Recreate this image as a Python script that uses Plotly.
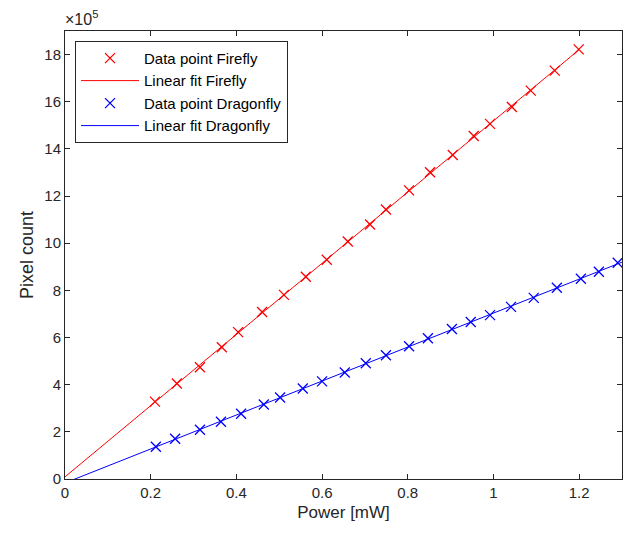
import numpy as np
import plotly.graph_objects as go

# power in mW, pixel counts in units of 1e5
firefly_power = [0.210, 0.261, 0.315, 0.366, 0.404, 0.460, 0.511, 0.562, 0.611, 0.660, 0.712,
                 0.749, 0.803, 0.852, 0.905, 0.954, 0.992, 1.043, 1.087, 1.143, 1.199]
firefly_counts = [3.28, 4.05, 4.74, 5.59, 6.23, 7.08, 7.81, 8.58, 9.30, 10.07, 10.79,
                  11.43, 12.24, 13.01, 13.74, 14.55, 15.06, 15.78, 16.47, 17.32, 18.22]

dragonfly_power = [0.212, 0.257, 0.315, 0.364, 0.411, 0.464, 0.502, 0.555, 0.600, 0.653, 0.702, 0.749,
                   0.803, 0.847, 0.903, 0.947, 0.992, 1.041, 1.094, 1.148, 1.204, 1.246, 1.290]
dragonfly_counts = [1.37, 1.71, 2.09, 2.43, 2.77, 3.16, 3.46, 3.84, 4.14, 4.52, 4.91, 5.25,
                    5.63, 5.97, 6.36, 6.66, 6.95, 7.30, 7.68, 8.11, 8.49, 8.79, 9.17]

fit_range_firefly = [0, 1.2]
fit_range_dragonfly = [0, 1.3]

font = "Liberation Sans, Arial, sans-serif"
axis_color = "#262626"


def fit_line(x, y, xr):
    k, b = np.polyfit(x, y, 1)
    xr = np.array(xr)
    return xr, k * xr + b


fig = go.Figure()

fig.add_trace(go.Scatter(x=firefly_power, y=firefly_counts, mode="markers",
                         name="Data point Firefly", cliponaxis=False,
                         marker=dict(symbol="x-thin", size=10, line=dict(color="#ff0000", width=1.3))))
fx, fy = fit_line(firefly_power, firefly_counts, fit_range_firefly)
fig.add_trace(go.Scatter(x=fx, y=fy, mode="lines", name="Linear fit Firefly",
                         line=dict(color="#ff0000", width=1)))

fig.add_trace(go.Scatter(x=dragonfly_power, y=dragonfly_counts, mode="markers",
                         name="Data point Dragonfly", cliponaxis=False,
                         marker=dict(symbol="x-thin", size=10, line=dict(color="#0000ff", width=1.3))))
dx, dy = fit_line(dragonfly_power, dragonfly_counts, fit_range_dragonfly)
fig.add_trace(go.Scatter(x=dx, y=dy, mode="lines", name="Linear fit Dragonfly",
                         line=dict(color="#0000ff", width=1)))

axis_style = dict(showline=True, linecolor=axis_color, linewidth=1, mirror="ticks",
                  ticks="inside", ticklen=5, tickcolor=axis_color, showgrid=False,
                  zeroline=False, automargin=False, tickfont=dict(size=15, color=axis_color))

fig.update_xaxes(range=[0, 1.3], tickvals=[0, 0.2, 0.4, 0.6, 0.8, 1, 1.2],
                 title=dict(text="Power [mW]", font=dict(size=17, color=axis_color), standoff=6),
                 **axis_style)
fig.update_yaxes(range=[0, 19], dtick=2,
                 title=dict(text="Pixel count", font=dict(size=18, color=axis_color), standoff=6),
                 **axis_style)

fig.add_annotation(xref="paper", yref="paper", x=0, y=1, xanchor="left", yanchor="bottom",
                   xshift=-2, yshift=1, showarrow=False,
                   text="×10<sup>5</sup>", font=dict(size=16, color=axis_color))

fig.update_layout(
    width=626, height=537,
    margin=dict(l=65, r=4, t=31, b=58),
    plot_bgcolor="white", paper_bgcolor="white",
    font=dict(family=font, color=axis_color),
    showlegend=True,
    legend=dict(x=0.018, y=0.978, xanchor="left", yanchor="top",
                bgcolor="white", bordercolor=axis_color, borderwidth=1,
                font=dict(size=15, color="black"), tracegroupgap=0, itemwidth=58),
)

# drop the default body margin so the figure sits at the page corner
fig.write_html("out.html", config={"displayModeBar": False},
               post_script="document.body.style.margin='0';document.body.style.overflow='hidden';")
